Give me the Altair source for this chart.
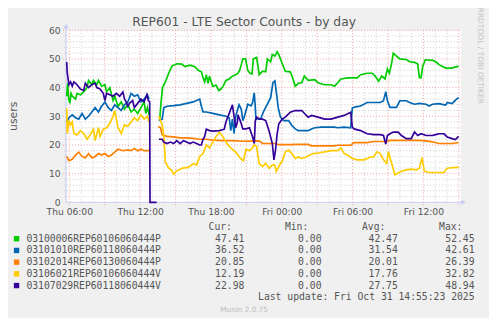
import altair as alt
import pandas as pd

# ---------------- data ----------------
names = ["03100006REP60106060444P", "03101010REP60118060444P", "03102014REP60130060444P",
         "03106021REP60106060444V", "03107029REP60118060444V"]
colors = ["#00cc00", "#0066b3", "#ff8000", "#ffcc00", "#330099"]

cur = ["47.41", "36.52", "20.85", "12.19", "22.98"]
mins = ["0.00", "0.00", "0.00", "0.00", "0.00"]
avgs = ["42.47", "31.54", "20.01", "17.76", "27.75"]
maxs = ["52.45", "42.61", "26.39", "32.82", "48.94"]

tick_hours = [6, 12, 18, 24, 30, 36]
tick_labels = ["Thu 06:00", "Thu 12:00", "Thu 18:00", "Fri 00:00", "Fri 06:00", "Fri 12:00"]
y_ticks = [0, 10, 20, 30, 40, 50, 60]

# hours since Thu 00:00 ; None marks the data gap
green_t = [5.78, 5.86, 5.95, 6.05, 6.15, 6.25, 6.53, 6.66, 6.94, 7.22, 7.50, 7.63, 7.91, 8.05, 8.33, 8.47,
           8.74, 9.02, 9.16, 9.43, 9.71, 9.85, 10.13, 10.40, 10.68, 10.96, 11.24, 11.51, 11.79, 12.07,
           12.34, 12.48, 12.62, 12.76, None,
           13.65, 13.78, 13.90, 14.14, 14.42, 14.70, 15.11, 15.53, 15.80, 16.22, 16.64, 16.92, 17.19,
           17.33, 17.47, 17.61, 17.75, 17.88, 18.02, 18.16, 18.44, 18.66, 18.85, 19.04, 19.27, 19.55,
           19.82, 20.10, 20.29, 20.43, 20.57, 20.70, 20.93, 21.12, 21.32, 21.48, 21.59, 21.87, 22.09,
           22.37, 22.64, 22.78, 23.06, 23.20, 23.42, 23.61, 23.75, 24.03, 24.30, 24.72, 24.91, 25.14,
           25.41, 25.69, 25.91, 26.24, 26.80, 27.07, 27.63, 28.18, 28.46, 28.74, 29.01, 29.57, 30.40,
           30.68, 31.23, 31.65, 31.92, 32.20, 32.48, 32.75, 32.95, 33.12, 33.31, 33.45, 33.72, 34.00,
           34.55, 34.83, 35.25, 35.52, 35.66, 35.80, 35.94, 36.16, 36.77, 37.05, 37.32, 37.88, 38.43,
           38.71, 38.99]
green_v = [37, 41.5, 36, 34.5, 38, 37, 36, 38, 37.5, 38.5, 40, 42.5, 41, 42.5, 41, 42.5,
           40.5, 41, 38.5, 40, 35.5, 37, 33.5, 35, 32.5, 34, 31.5, 32.5, 31, 33,
           35, 31, 33, 30.5, None,
           28.5, 35, 40, 42, 45, 47.5, 48.3, 48.2, 47.3, 47.8, 47.3, 46, 45.5,
           43.5, 42, 44.5, 41.5, 44, 42, 40.5, 40.8, 39, 39.5, 40.5, 42.5, 43,
           44, 44.5, 45, 46, 48, 50, 50, 46, 45, 44.8, 50, 50.5, 44.5,
           45.7, 45.5, 50, 49, 51.5, 51, 52.5, 51.5, 48.5, 45.7, 45.5, 43.5, 40.5,
           41.5, 41.7, 44, 42.5, 42.8, 41.7, 41, 41, 40.5, 41.7, 43, 43.4, 43.4,
           44.5, 45, 45, 44, 42.2, 44, 43, 46.5, 45, 48.5, 52, 51, 50,
           49.8, 49, 48.8, 48.2, 43.5, 43.5, 47.4, 49.7, 49.5, 49, 48, 46.8, 46.8,
           47.2, 47.41]

blue_t = [5.78, 5.97, 6.25, 6.53, 6.80, 7.08, 7.36, 7.63, 7.91, 8.19, 8.47, 8.74, 9.02, 9.30, 9.57, 9.85,
          10.13, 10.40, 10.68, 10.96, 11.24, 11.51, 11.79, 12.07, 12.34, 12.62, 12.76, None,
          13.59, 13.87, 14.01, 14.28, 14.84, 15.39, 15.94, 16.50, 16.78, 17.05, 17.19, 17.33, 17.61,
          18.16, 18.71, 19.27, 19.55, 19.68, 19.82, 19.96, 20.10, 20.38, 20.57, 20.70, 20.84, 21.12,
          21.40, 21.53, 21.67, 21.76, 21.81, 22.23, 22.50, 22.78, 23.06, 23.25, 23.42, 23.53, 23.70,
          23.89, 24.17, 24.58, 24.86, 25.14, 25.41, 26.24, 26.52, 26.80, 27.35, 28.46, 28.74, 29.29,
          29.84, 29.98, 30.26, 30.68, 31.23, 32.34, 32.62, 32.81, 32.95, 33.17, 33.72, 34.00, 34.55,
          34.83, 35.25, 35.66, 36.22, 36.49, 36.77, 37.32, 37.88, 38.02, 38.43, 38.71, 38.99]
blue_v = [28, 29.5, 30.5, 29.5, 29, 31, 29, 30, 31.5, 33, 31.5, 33.5, 35, 33, 32, 34,
          33, 32, 34, 35, 38, 37, 37.5, 35, 36, 37.5, 36, None,
          28.5, 29, 33, 33.5, 33.7, 34, 34.5, 35, 35.5, 36, 33.5, 31.5, 31.5,
          31, 30.5, 30, 29.5, 25, 29, 24, 30, 34, 32.5, 28.5, 30, 34.2,
          33.6, 34.8, 38.2, 33, 29, 29.3, 32, 34.2, 36.5, 41.7, 42.3, 38.8, 33,
          29.7, 28.5, 28.5, 26.8, 25.6, 25, 25, 25.6, 26, 26.2, 26.2, 26, 26.2,
          26, 32.9, 33.3, 33.6, 34.8, 34.8, 35.4, 38.6, 35.4, 33.1, 33.1, 35.4, 35.4,
          34.8, 34.2, 34.5, 34.2, 33.6, 34.2, 34.4, 33.9, 34.8, 34.4, 35.6, 36.52]

orange_t = [5.78, 5.97, 6.25, 6.53, 6.80, 7.08, 7.36, 7.63, 7.91, 8.19, 8.47, 8.74, 9.02, 9.30, 9.57,
            9.85, 10.13, 10.54, 10.96, 11.24, 11.51, 11.79, 12.07, 12.34, 12.76, None,
            13.53, 13.73, 13.87, 14.28, 14.84, 15.39, 15.94, 16.50, 17.05, 17.61, 18.16, 18.99, 19.82,
            20.79, 22.09, 22.37, 23.47, 23.75, 24.86, 25.14, 26.24, 26.52, 28.46, 28.74, 29.84, 30.12,
            31.23, 31.78, 32.89, 33.17, 35.66, 36.22, 36.77, 37.32, 38.43, 38.99]
orange_v = [16, 14.5, 15, 16.5, 17.5, 16, 15.5, 17, 15.5, 16, 17, 16.5, 17, 16, 16.5,
            17.5, 18.5, 18, 18.3, 18, 18.8, 18, 18.5, 18, 18, None,
            26.4, 26, 23.5, 23, 22.8, 22.5, 22.5, 22.3, 22, 22, 21.7, 21.5, 21.5,
            21.3, 21.4, 20.5, 20.5, 20.1, 20.1, 20.2, 20.2, 19.7, 19.7, 19.9, 19.9, 20.8,
            20.8, 21.2, 21.2, 21.6, 21.6, 21.4, 21.1, 20.5, 20.5, 20.85]

yellow_t = [5.78, 5.83, 5.97, 6.11, 6.25, 6.39, 6.66, 6.94, 7.22, 7.50, 7.77, 8.05, 8.19, 8.47, 8.60,
            8.88, 9.16, 9.43, 9.71, 9.85, 10.13, 10.40, 10.68, 10.96, 11.24, 11.51, 11.79, 12.07,
            12.34, 12.62, 12.76, None,
            13.59, 13.87, 14.01, 14.14, 14.42, 14.70, 14.84, 15.11, 15.39, 15.67, 16.08, 16.50, 16.78,
            17.05, 17.33, 17.61, 17.88, 18.16, 18.44, 18.71, 18.99, 19.27, 19.55, 19.82, 20.10, 20.38,
            20.57, 20.75, 20.98, 21.26, 21.53, 21.67, 21.87, 21.95, 22.09, 22.37, 22.64, 22.92, 23.20,
            23.42, 23.53, 23.70, 23.89, 24.03, 24.30, 24.58, 24.86, 25.14, 25.41, 25.69, 25.97, 26.38,
            26.66, 27.07, 27.63, 28.18, 28.74, 29.01, 29.29, 29.57, 29.98, 30.40, 30.95, 31.23, 31.51,
            31.78, 32.06, 32.34, 32.62, 32.89, 33.03, 33.31, 33.58, 33.86, 34.14, 34.55, 34.97, 35.39,
            35.66, 35.88, 36.08, 36.49, 37.74, 38.02, 38.43, 38.99]
yellow_v = [32.8, 24, 28.5, 27, 28, 24, 23.5, 25, 24, 22, 23.5, 25.5, 21.5, 26, 23,
            25.5, 26, 27.5, 30, 32, 26, 24, 27, 26.5, 28, 29.5, 28.5, 30.5,
            29, 30, 28, None,
            30, 27, 23, 14, 12, 11, 9.8, 11, 11.5, 12, 12.2, 13.5, 13,
            16, 17, 20, 19, 21, 23, 24.5, 23, 21, 19.5, 18.5, 17.5, 16,
            15, 14.5, 18.5, 18, 19, 20, 19.5, 17, 13.6, 12.5, 13.6, 11.9, 13,
            13, 10.8, 12, 13.6, 14.2, 17.6, 18.2, 17, 15.3, 15.8, 15.3, 15.6, 16.5,
            17, 17.2, 17.6, 18, 18, 19, 17, 16.5, 15.3, 14.8, 14.8, 15.3, 15.8,
            15.8, 17.6, 17, 14.8, 13.6, 17.6, 13.6, 9.6, 10.2, 10.8, 11.3, 11.6, 11.3,
            11.9, 15.6, 10.8, 10.4, 10.4, 11.9, 12.1, 12.19]

purple_t = [5.78, 5.83, 5.97, 6.11, 6.25, 6.39, 6.66, 6.94, 7.22, 7.36, 7.63, 7.91, 8.19, 8.33, 8.60,
            8.88, 9.02, 9.16, 9.43, 9.71, 9.99, 10.27, 10.54, 10.68, 10.82, 10.96, 11.10, 11.37, 11.51,
            11.79, 12.07, 12.34, 12.57, 12.70, 12.81, 12.84, 13.40, None,
            13.59, 13.87, 14.01, 14.28, 14.56, 14.84, 15.11, 15.39, 15.67, 15.94, 16.22, 16.50, 16.78,
            17.05, 17.19, 17.33, 17.47, 17.61, 17.88, 18.16, 18.71, 19.13, 19.27, 19.55, 19.82, 19.96,
            20.10, 20.24, 20.29, 20.43, 20.57, 20.70, 20.98, 21.26, 21.53, 21.67, 21.76, 21.87, 22.09,
            22.37, 22.64, 22.92, 23.20, 23.34, 23.47, 23.61, 23.75, 24.03, 24.30, 24.72, 25.14, 25.69,
            25.97, 26.24, 26.52, 27.07, 27.63, 28.18, 28.74, 29.29, 29.84, 29.98, 30.12, 30.68, 31.23,
            31.78, 32.34, 32.62, 32.81, 32.95, 33.17, 33.45, 33.86, 34.14, 34.55, 34.97, 35.25, 35.52,
            35.80, 36.22, 36.77, 37.05, 37.32, 37.74, 38.02, 38.43, 38.71, 38.99]
purple_v = [48.9, 45, 41, 42, 40.5, 42, 41, 39.5, 39, 41.5, 40, 41, 41.5, 40, 39.5,
            38, 35.5, 38, 37.5, 37, 38, 37, 38.5, 36, 35, 33.5, 34.5, 35.5, 33,
            34.5, 36, 35, 37.5, 35.5, 35, 0, 0, None,
            22, 22, 21, 20.5, 21, 20.5, 21.5, 20.5, 21.5, 21, 20.5, 21, 20.5,
            20, 20, 22, 23, 25.5, 25, 24.8, 25, 25.5, 28, 31, 34, 30,
            26, 28, 30.5, 29, 27.4, 25.6, 25.6, 26, 22.8, 20.5, 28.5, 29.7, 29,
            29, 28.5, 25, 20.5, 14.8, 18.2, 23.9, 27.4, 29, 29.7, 31.4, 32, 32,
            30.8, 29.7, 30.3, 29.7, 29, 29, 29.7, 30.3, 31.4, 26.2, 25.6, 25, 23.9,
            23.6, 23.6, 23.3, 20.3, 23.3, 23.9, 24.5, 24.5, 23.3, 22.2, 22.2, 24.5, 23.3,
            23.9, 23.3, 23.3, 23.6, 23.9, 23.9, 22.8, 22.2, 21.9, 22.98]

series_t = [green_t, blue_t, orange_t, yellow_t, purple_t]
series_v = [green_v, blue_v, orange_v, yellow_v, purple_v]

# ---------------- build table ----------------
rows = []
for name, ts, vs in zip(names, series_t, series_v):
    seg = 0
    for t, v in zip(ts, vs):
        if t is None:
            seg += 1
            continue
        rows.append({"series": name, "seg": f"{name}-{seg}", "h": t, "v": v})
df = pd.DataFrame(rows)

W, H = 401, 175
X_DOM = [5.725, 39.14]
Y_DOM = [0, 60]
AXIS_COL = "#c6caf2"
TXT = "#555555"
MONO = "DejaVu Sans Mono"
SANS = "DejaVu Sans"

xs = alt.Scale(domain=X_DOM, nice=False, zero=False)
ys = alt.Scale(domain=Y_DOM, nice=False)

label_expr = "".join(f"datum.value == {h} ? '{l}' : " for h, l in zip(tick_hours, tick_labels)) + "''"
x_axis = alt.Axis(values=tick_hours, labelExpr=label_expr, grid=False, ticks=False, tickSize=0,
                  domain=False, labelFont=SANS, labelFontSize=9.3, labelColor=TXT,
                  labelPadding=5, labelFlush=False, labelOverlap=False, title=None)
y_axis = alt.Axis(values=y_ticks, grid=False, ticks=False, tickSize=0, domain=False,
                  labelFont=SANS, labelFontSize=9.3, labelColor=TXT, labelPadding=6, title=None)

minor_x = pd.DataFrame({"h": [h for h in range(6, 40) if h % 3 != 0]})
major_x = pd.DataFrame({"h": list(range(6, 40, 3))})
minor_y = pd.DataFrame({"v": [v for v in range(2, 61, 2) if v % 10 != 0]})
major_y = pd.DataFrame({"v": list(range(10, 61, 10))})

grid_minor = "#cfcfcf"
grid_major = "#f0a0a0"

gx1 = alt.Chart(minor_x).mark_rule(color=grid_minor, strokeDash=[1, 2], strokeWidth=1).encode(
    x=alt.X("h:Q", scale=xs, axis=x_axis), y=alt.value(0), y2=alt.value(H + 2))
gy1 = alt.Chart(minor_y).mark_rule(color=grid_minor, strokeDash=[1, 2], strokeWidth=1).encode(
    y=alt.Y("v:Q", scale=ys, axis=y_axis), x=alt.value(-2), x2=alt.value(W))
gx2 = alt.Chart(major_x).mark_rule(color=grid_major, strokeDash=[1, 2], strokeWidth=1).encode(
    x=alt.X("h:Q", scale=xs, axis=x_axis), y=alt.value(0), y2=alt.value(H + 3))
gy2 = alt.Chart(major_y).mark_rule(color=grid_major, strokeDash=[1, 2], strokeWidth=1).encode(
    y=alt.Y("v:Q", scale=ys, axis=y_axis), x=alt.value(-3), x2=alt.value(W))

lines = alt.Chart(df).mark_line(strokeWidth=1.7, interpolate="linear").encode(
    x=alt.X("h:Q", scale=xs, axis=x_axis),
    y=alt.Y("v:Q", scale=ys, axis=y_axis),
    color=alt.Color("series:N", scale=alt.Scale(domain=names, range=colors), legend=None),
    detail="seg:N",
)

one = alt.InlineData(values=[{"k": 1}])

yaxis_line = alt.Chart(one).mark_rule(color=AXIS_COL, strokeWidth=1).encode(
    x=alt.value(0), y=alt.value(-3), y2=alt.value(H))
xaxis_line = alt.Chart(one).mark_rule(color=AXIS_COL, strokeWidth=1).encode(
    x=alt.value(0), x2=alt.value(W + 2), y=alt.value(H))
arrow_up = alt.Chart(one).mark_point(shape="triangle-up", filled=True, color=AXIS_COL, size=28, opacity=1).encode(
    x=alt.value(0), y=alt.value(-4))
arrow_right = alt.Chart(one).mark_point(shape="triangle-right", filled=True, color=AXIS_COL, size=28, opacity=1).encode(
    x=alt.value(W + 3), y=alt.value(H))


def txt(s, x, y, size=9.9, align="left", font=MONO, color=TXT, angle=0, baseline="middle"):
    kw = dict(text=s, align=align, baseline=baseline, font=font, fontSize=size, color=color)
    if angle:
        kw["angle"] = angle
    return alt.Chart(one).mark_text(**kw).encode(x=alt.value(x), y=alt.value(y))


texts = [
    txt("REP601 - LTE Sector Counts - by day", 181, -4, size=12.5, align="center", font=SANS,
        baseline="alphabetic"),
    txt("users", -52.5, H / 2, size=11, align="center", font=SANS, angle=270),
    txt("RRDTOOL / TOBI OETIKER", 420.5, 26, size=7.6, align="center", font=SANS, color="#c4c4c4",
        angle=90),
    txt("Munin 2.0.75", 181, 284, size=7.4, align="center", font=SANS, color="#bdbdbd"),
    txt("Cur:", 168.7, 200, align="right"),
    txt("Min:", 246.3, 200, align="right"),
    txt("Avg:", 324.7, 200, align="right"),
    txt("Max:", 403, 200, align="right"),
    txt("Last update: Fri Oct 31 14:55:23 2025", 415.3, 271.5, align="right"),
]

legend_layers = []
for i, (nm, col) in enumerate(zip(names, colors)):
    yy = 212 + 11.9 * i
    legend_layers.append(
        alt.Chart(one).mark_square(color=col, filled=True, size=30, opacity=1).encode(
            x=alt.value(-50.3), y=alt.value(yy)))
    legend_layers.append(txt(nm, -40.3, yy))
    legend_layers.append(txt(cur[i], 181.3, yy, align="right"))
    legend_layers.append(txt(mins[i], 259.7, yy, align="right"))
    legend_layers.append(txt(avgs[i], 337.3, yy, align="right"))
    legend_layers.append(txt(maxs[i], 415.3, yy, align="right"))

chart = alt.layer(
    gx1, gy1, gx2, gy2, yaxis_line, xaxis_line, lines, arrow_up, arrow_right, *texts, *legend_layers
).properties(
    width=W, height=H,
    background="#f0f0f0",
    padding={"left": 59, "top": 20, "right": 29, "bottom": 115},
    autosize=alt.AutoSizeParams(type="none"),
).configure_view(fill="white", stroke="transparent")

chart.save("out.html", embed_options={"renderer": "svg", "actions": False})
